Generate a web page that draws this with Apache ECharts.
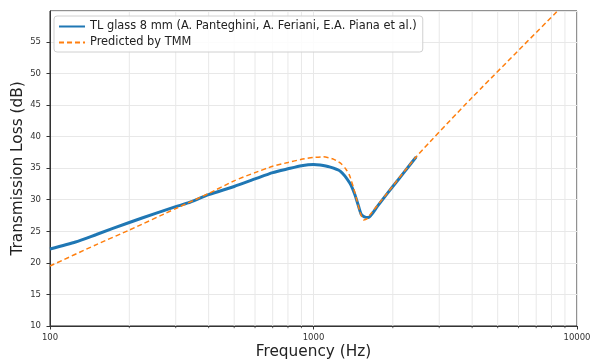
<!DOCTYPE html>
<html>
<head>
<meta charset="utf-8">
<script src="https://cdn.jsdelivr.net/npm/echarts@6/dist/echarts.min.js"></script>
<style>
html,body{margin:0;padding:0;background:#fff;}
#chart{width:592px;height:361px;}
</style>
</head>
<body>
<div id="chart"></div>
<script>
// Measured transmission loss (TL glass 8 mm)
const freqMeasured = [100,125,150,200,250,300,334,400,500,600,700,800,900,1000,1060,1150,1266,1375,1436,1484,1517,1560,1615,1750,1897,2100,2300,2454];
const tlMeasured   = [22.2,23.3,24.5,26.4,27.8,28.9,29.5,30.8,32.1,33.3,34.3,34.9,35.4,35.6,35.5,35.2,34.5,32.6,30.8,28.9,27.7,27.3,27.2,29.0,30.9,33.2,35.3,36.8];
// Predicted by TMM
const freqPredicted = [100,150,200,300,400,500,600,700,800,900,1000,1091,1180,1266,1330,1375,1436,1500,1550,1600,1637,1900,2454,4000,8435,10000];
const tlPredicted   = [19.5,22.9,25.2,28.6,31.0,33.0,34.3,35.3,35.9,36.4,36.7,36.8,36.5,35.8,34.8,33.7,31.1,28.1,26.8,27.0,27.6,31.0,36.8,46.2,59.9,63.0];
// Axis
const xTickLabels = ['100','1000','10000'];
const minorFreqs = [200,300,400,500,600,700,800,900,2000,3000,4000,5000,6000,7000,8000,9000];
const yMin = 10, yMax = 59.9, yStep = 5;

const seriesNames = ['TL glass 8 mm (A. Panteghini, A. Feriani, E.A. Piana et al.)','Predicted by TMM'];
const zip = (a,b) => a.map((v,i)=>[v,b[i]]);

const chart = echarts.init(document.getElementById('chart'), null, {renderer:'canvas'});
const font = 'DejaVu Sans';
chart.setOption({
  animation:false,
  backgroundColor:'#fff',
  grid:{left:50,right:15,top:11,bottom:35,containLabel:false,outerBoundsMode:'none',show:true,borderColor:'#222',borderWidth:1,backgroundColor:'transparent'},
  legend:{
    data:seriesNames,
    orient:'vertical',
    left:54, top:16,
    padding:[5,6,4,4],
    itemGap:5,
    itemWidth:26, itemHeight:10,
    itemStyle:{opacity:0},
    borderColor:'#d0d0d0', borderWidth:1, borderRadius:3,
    backgroundColor:'rgba(255,255,255,0.85)',
    textStyle:{fontFamily:font,fontSize:11.4,color:'#222'}
  },
  xAxis:{
    type:'log', logBase:10, min:100, max:10000,
    name:'Frequency (Hz)', nameLocation:'middle', nameGap:19, nameMoveOverlap:false,
    nameTextStyle:{fontFamily:font,fontSize:15.3,color:'#222'},
    axisLine:{lineStyle:{color:'#333',width:1}},
    axisTick:{show:true,length:3.5,lineStyle:{color:'#333'}},
    axisLabel:{fontFamily:font,fontSize:8.5,color:'#333',margin:7,
      formatter:function(v){const i=Math.round(Math.log10(v))-2;return xTickLabels[i]!==undefined?xTickLabels[i]:'';}},
    splitLine:{show:true,lineStyle:{color:'#e8e8e8',width:1}}
  },
  yAxis:{
    type:'value', min:yMin, max:yMax, interval:yStep,
    name:'Transmission Loss (dB)', nameLocation:'middle', nameGap:24, nameMoveOverlap:false,
    nameTextStyle:{fontFamily:font,fontSize:15.3,color:'#222'},
    axisLine:{show:true,lineStyle:{color:'#333',width:1}},
    axisTick:{show:true,length:3.5,lineStyle:{color:'#333'}},
    axisLabel:{fontFamily:font,fontSize:8.5,color:'#333',margin:9,showMaxLabel:false},
    splitLine:{show:true,lineStyle:{color:'#e8e8e8',width:1}}
  },
  series:[
    {
      name:'minor', type:'custom', silent:true, clip:false, z:1,
      data:minorFreqs.map(f=>[f,yMin]),
      encode:{x:0,y:1},
      renderItem:function(params,api){
        const f=api.value(0);
        const top=api.coord([f,yMax]);
        const bot=api.coord([f,yMin]);
        return {type:'group',children:[
          {type:'line',shape:{x1:top[0],y1:top[1],x2:bot[0],y2:bot[1]},style:{stroke:'#e8e8e8',lineWidth:1}},
          {type:'line',shape:{x1:bot[0],y1:bot[1],x2:bot[0],y2:bot[1]+2.2},style:{stroke:'#333',lineWidth:0.8}}
        ]};
      }
    },
    {
      name:seriesNames[0], type:'line', z:3,
      data:zip(freqMeasured,tlMeasured),
      symbol:'none', smooth:0.2,
      lineStyle:{color:'#1f77b4',width:3},
      itemStyle:{color:'#1f77b4'}
    },
    {
      name:seriesNames[1], type:'line', z:4, clip:true,
      data:zip(freqPredicted,tlPredicted),
      symbol:'none', smooth:0.2,
      lineStyle:{color:'#ff7f0e',width:1.5,type:[5,3]},
      itemStyle:{color:'#ff7f0e'}
    }
  ]
});
</script>
</body>
</html>
